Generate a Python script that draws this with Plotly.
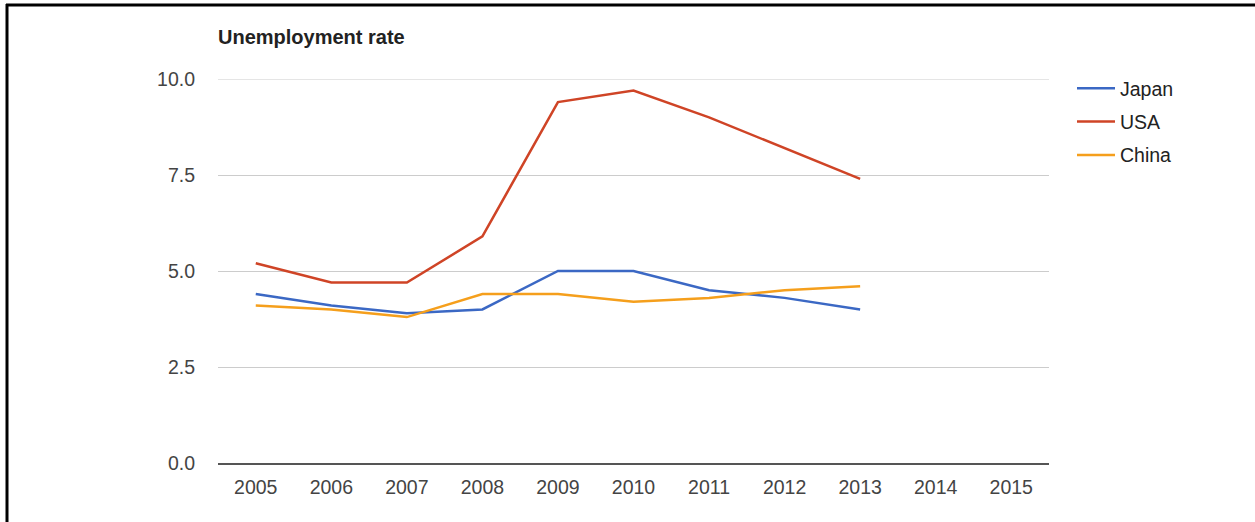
import plotly.graph_objects as go

# Unemployment rate (%) by year
years = [2005, 2006, 2007, 2008, 2009, 2010, 2011, 2012, 2013, 2014, 2015]
japan = [4.4, 4.1, 3.9, 4.0, 5.0, 5.0, 4.5, 4.3, 4.0, None, None]
usa = [5.2, 4.7, 4.7, 5.9, 9.4, 9.7, 9.0, 8.2, 7.4, None, None]
china = [4.1, 4.0, 3.8, 4.4, 4.4, 4.2, 4.3, 4.5, 4.6, None, None]

series_names = ["Japan", "USA", "China"]
series_colors = ["#3b68c4", "#cf4426", "#f59f1c"]
year_labels = [str(y) for y in years]
y_ticks = [0, 2.5, 5, 7.5, 10]
y_tick_labels = ["0.0", "2.5", "5.0", "7.5", "10.0"]

W, H = 1255, 522
L, R, T, B = 218, 206, 79, 59
PW, PH = W - L - R, H - T - B


def px_x(p):
    return (p - L) / PW


def px_y(p):
    return (H - B - p) / PH


fig = go.Figure()
for i, (name, vals) in enumerate(zip(series_names, [japan, usa, china])):
    fig.add_trace(go.Scatter(
        x=year_labels, y=vals, name=name, mode="lines",
        line=dict(color=series_colors[i], width=2.5),
        legendgroup=name,
    ))

font = "Arial, 'Liberation Sans', sans-serif"

# gridline at the top of the value range (plotly skips gridlines on the edge)
top_grid = dict(type="line", xref="paper", yref="y", layer="below",
                x0=0, x1=1, y0=y_ticks[-1], y1=y_ticks[-1],
                line=dict(color="#cccccc", width=1))

fig.update_layout(
    width=W, height=H,
    margin=dict(l=L, r=R, t=T, b=B),
    paper_bgcolor="white", plot_bgcolor="white",
    font=dict(family=font, size=19.5, color="#444"),
    title=dict(text="<b>Unemployment rate</b>", x=px_x(218), xref="paper",
               xanchor="left", y=1 - 37 / H, yanchor="middle",
               font=dict(size=20, color="#222", family=font)),
    xaxis=dict(type="category", range=[-0.5, 10.5], showgrid=False,
               showline=True, linecolor="#555", linewidth=2,
               ticks="", ticklabelstandoff=6, zeroline=False,
               tickfont=dict(size=19.5, color="#444")),
    yaxis=dict(range=[0, 10], tickvals=y_ticks, ticktext=y_tick_labels,
               showgrid=True, gridcolor="#cccccc", gridwidth=1,
               zeroline=False, showline=False, ticks="",
               ticklabelstandoff=22, tickfont=dict(size=19.5, color="#444")),
    legend=dict(x=px_x(1072), y=px_y(69), xanchor="left", yanchor="top",
                font=dict(size=19.5, color="#222"), tracegroupgap=5,
                itemwidth=38, bgcolor="rgba(0,0,0,0)"),
    showlegend=True,
    shapes=[
        top_grid,
        dict(type="line", xref="paper", yref="paper",
             x0=px_x(7), x1=px_x(7), y0=px_y(4), y1=px_y(H),
             line=dict(color="black", width=3)),
        dict(type="line", xref="paper", yref="paper",
             x0=px_x(6), x1=px_x(W), y0=px_y(5), y1=px_y(5),
             line=dict(color="black", width=3)),
    ],
)

fig.write_html("out.html")
